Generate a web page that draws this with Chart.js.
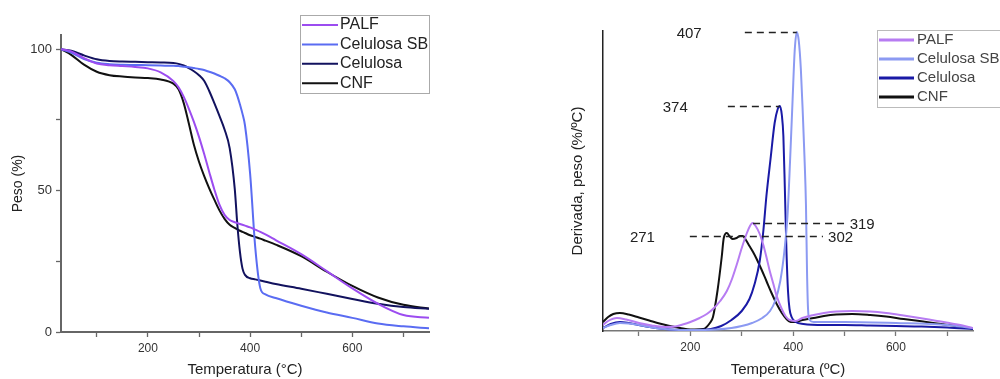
<!DOCTYPE html>
<html>
<head>
<meta charset="utf-8">
<script src="https://cdn.jsdelivr.net/npm/chart.js@4"></script>
<style>
  html, body { margin: 0; padding: 0; background: #fff; }
  #wrap { position: relative; width: 1000px; height: 379px; overflow: hidden; }
  canvas { position: absolute; top: 0; }
  #tga { left: 0; }
  #dtg { left: 500px; }
</style>
</head>
<body>
<div id="wrap">
  <canvas id="tga" width="500" height="379"></canvas>
  <canvas id="dtg" width="500" height="379"></canvas>
</div>
<script>
const seriesNames = ["PALF", "Celulosa SB", "Celulosa", "CNF"];

const xMajor = [200, 400, 600];
const xMinor = [100, 300, 500, 700];
const tgaYMajor = [0, 50, 100];
const tgaYMinor = [25, 75];

// TGA, peso (%)
const tgaTemp = [30, 50, 75, 100, 125, 150, 175, 200, 225, 250, 260, 270, 280, 290, 300, 310, 320, 330, 340, 350, 360, 370, 375, 380, 385, 390, 400, 410, 420, 430, 450, 500, 550, 600, 650, 700, 750];
const tgaPalf = [100, 99.2, 96.8, 94.9, 94.3, 94, 93.7, 93.2, 91.8, 88.7, 86.5, 83.2, 79, 74.3, 69, 63, 56.6, 50.4, 45, 41.4, 39.6, 38.8, 38.5, 38.2, 37.9, 37.6, 37, 36.2, 35.4, 34.5, 32.5, 27.5, 21.5, 15.4, 10, 6, 5];
const tgaCelSb = [100, 98.8, 96.5, 95.2, 94.7, 94.5, 94.4, 94.3, 94.2, 94.1, 94, 93.8, 93.6, 93.3, 93, 92.6, 92, 91.4, 90.6, 89.7, 88.3, 85.8, 83.5, 80.5, 77.2, 73, 56, 30, 15.5, 13.3, 12, 9.3, 6.9, 5, 3, 2, 1.3];
const tgaCel = [100, 99.4, 97.8, 96.4, 95.8, 95.6, 95.5, 95.4, 95.3, 95.1, 94.8, 94.2, 93.3, 92.2, 90.8, 88.8, 85.2, 80.9, 76.4, 71.6, 65, 50.5, 38, 28.5, 22.5, 20.2, 19, 18.6, 18.2, 17.8, 17, 15.3, 13.5, 11.7, 10, 8.8, 8.2];
const tgaCnf = [100, 98, 94.5, 92, 90.8, 90.3, 90, 89.8, 89.3, 87.8, 85.8, 81, 73.8, 66.2, 60.2, 55.2, 50.8, 46.8, 43, 40, 37.9, 36.8, 36.3, 35.8, 35.4, 35, 34.2, 33.6, 33, 32.3, 30.9, 26.8, 21.3, 16.3, 12.2, 9.6, 8.3];

// DTG, derivada (unidades arbitrarias)
const dtgPalfT = [30, 40, 57, 75, 100, 125, 150, 170, 185, 200, 218, 232, 244, 258, 271, 281, 290, 300, 310, 316, 321, 327, 335, 342, 348, 354, 361, 368, 377, 385, 393, 405, 418, 440, 460, 484, 515, 550, 581, 615, 646, 680, 704, 730, 750];
const dtgPalf = [6, 10, 13, 11.5, 8, 5.5, 4, 4.5, 6.5, 9, 13, 17, 22, 30, 40, 52, 66, 83, 98, 105, 108, 105, 97, 86, 74, 61, 48, 35, 23, 15, 11, 10, 13, 16, 18, 19.5, 20, 19.5, 18, 15.5, 13, 10, 8, 5.5, 3];

const dtgCelSbT = [30, 45, 63, 80, 100, 121, 140, 160, 200, 250, 280, 300, 320, 340, 355, 365, 375, 383, 389, 394, 399, 403, 407, 411, 415, 419, 422, 425, 427, 429, 432, 440, 500, 600, 700, 750];
const dtgCelSb = [3, 6, 8, 7.5, 6, 4, 2.5, 1.5, 1, 1.5, 3, 5, 8, 13, 20, 30, 50, 80, 115, 170, 232, 280, 299, 290, 262, 215, 175, 125, 60, 22, 11, 9, 9, 8, 6, 3];

const dtgCelT = [30, 45, 63, 80, 100, 121, 140, 160, 200, 240, 260, 280, 300, 315, 325, 335, 342, 348, 356, 364, 370, 374, 378, 381, 384, 387, 390, 393, 397, 405, 420, 460, 500, 550, 600, 650, 700, 750];
const dtgCel = [3, 7, 9, 8, 6, 4, 2.5, 1.5, 1, 2, 5, 11, 20, 32, 47, 70, 100, 135, 172, 208, 222, 225, 216, 195, 140, 80, 40, 22, 14, 9, 7, 6, 6, 5.5, 5, 4.5, 3.5, 2];

const dtgCnfT = [30, 40, 50, 63, 80, 100, 120, 140, 160, 180, 200, 225, 238, 244, 253, 261, 265, 271, 276, 282, 290, 297, 302, 308, 315, 322, 329, 338, 348, 358, 368, 378, 387, 395, 405, 418, 440, 460, 484, 515, 550, 581, 615, 646, 680, 704, 730, 750];
const dtgCnf = [9, 14, 17, 18, 16.5, 13.5, 10.5, 7.5, 5, 3, 1.5, 2, 8, 14, 41, 74, 93, 98, 95, 92, 93, 95, 95, 91, 85, 79, 72, 62, 50, 38, 27, 18, 12, 9, 9, 11, 13, 15, 16.5, 17, 16, 14.5, 12, 10, 7.5, 6, 4, 2.5];

// dashed peak markers on the DTG panel (temperatures / y values)
const peakMarks = [
  { y: 299, from: 306, to: 407, left: { text: "407", at: 222 } },
  { y: 225, from: 273, to: 374, left: { text: "374", at: 195 } },
  { y: 95, from: 199, to: 458, left: { text: "271", at: 131 }, right: { text: "302", at: 468 } },
  { y: 108, from: 322, to: 501, right: { text: "319", at: 510 } },
];

const fontFamily = "'Liberation Sans', Arial, sans-serif";
Chart.defaults.font.family = fontFamily;

const toPoints = (xs, ys) => xs.map((x, i) => ({ x: x, y: ys[i] }));

const line = (label, data, color) => ({
  label: label,
  data: data,
  borderColor: color,
  borderWidth: 2,
  pointRadius: 0,
  fill: false,
  cubicInterpolationMode: "monotone",
});

// legend drawn as a framed box inside the plot
const boxLegend = {
  id: "boxLegend",
  afterDraw(chart, args, opts) {
    const ctx = chart.ctx;
    ctx.save();
    ctx.strokeStyle = opts.borderColor;
    ctx.lineWidth = 1;
    ctx.strokeRect(opts.x + 0.5, opts.y + 0.5, opts.width, opts.height);
    ctx.font = opts.fontSize + "px " + fontFamily;
    ctx.textBaseline = "middle";
    chart.data.datasets.forEach((ds, i) => {
      const cy = opts.y + opts.firstRow + i * opts.rowGap;
      ctx.strokeStyle = ds.borderColor;
      ctx.lineWidth = opts.sampleWidth;
      ctx.beginPath();
      ctx.moveTo(opts.x + 2, cy);
      ctx.lineTo(opts.x + 2 + opts.sampleLength, cy);
      ctx.stroke();
      ctx.fillStyle = opts.textColor;
      ctx.fillText(ds.label, opts.x + opts.textOffset, cy);
    });
    ctx.restore();
  },
};

const peakLines = {
  id: "peakLines",
  afterDatasetsDraw(chart) {
    const ctx = chart.ctx;
    const x = chart.scales.x;
    const y = chart.scales.y;
    ctx.save();
    ctx.strokeStyle = "#222";
    ctx.fillStyle = "#222";
    ctx.lineWidth = 1.3;
    ctx.font = "15px " + fontFamily;
    ctx.textBaseline = "middle";
    peakMarks.forEach((m) => {
      const py = Math.round(y.getPixelForValue(m.y)) + 0.5;
      ctx.setLineDash([7, 5]);
      ctx.beginPath();
      ctx.moveTo(x.getPixelForValue(m.from), py);
      ctx.lineTo(x.getPixelForValue(m.to), py);
      ctx.stroke();
      ctx.setLineDash([]);
      if (m.left) {
        ctx.textAlign = "right";
        ctx.fillText(m.left.text, x.getPixelForValue(m.left.at), py + 1);
      }
      if (m.right) {
        ctx.textAlign = "left";
        ctx.fillText(m.right.text, x.getPixelForValue(m.right.at), py + 1);
      }
    });
    ctx.restore();
  },
};

const xTicks = xMajor.concat(xMinor).sort((a, b) => a - b);

function xAxis(height, borderColor, borderWidth, titleText) {
  return {
    type: "linear",
    min: 30,
    max: 750,
    afterBuildTicks: (scale) => {
      scale.ticks = xTicks.map((v) => ({ value: v }));
    },
    afterFit: (scale) => {
      scale.height = height;
    },
    border: { display: true, color: borderColor, width: borderWidth },
    grid: {
      drawOnChartArea: false,
      drawTicks: true,
      tickLength: 5,
      tickColor: borderColor,
      tickWidth: 1.3,
    },
    ticks: {
      padding: 4,
      color: "#333",
      font: { size: 12 },
      maxRotation: 0,
      autoSkip: false,
      callback: (value) => (xMajor.includes(value) ? String(value) : ""),
    },
    title: {
      display: true,
      text: titleText,
      color: "#222",
      font: { size: 15 },
      padding: { top: 0, bottom: 0 },
    },
  };
}

new Chart(document.getElementById("tga"), {
  type: "line",
  data: {
    datasets: [
      line(seriesNames[0], toPoints(tgaTemp, tgaPalf), "#9c4cf0"),
      line(seriesNames[1], toPoints(tgaTemp, tgaCelSb), "#5a6cf2"),
      line(seriesNames[2], toPoints(tgaTemp, tgaCel), "#12125e"),
      line(seriesNames[3], toPoints(tgaTemp, tgaCnf), "#111111"),
    ],
  },
  options: {
    responsive: false,
    animation: false,
    devicePixelRatio: 1,
    layout: { padding: { left: 0, top: 35, right: 71, bottom: 0 } },
    plugins: {
      legend: { display: false },
      tooltip: { enabled: false },
      boxLegend: {
        x: 300, y: 15, width: 129, height: 78,
        firstRow: 10, rowGap: 19.4,
        sampleLength: 36, sampleWidth: 2, textOffset: 40,
        fontSize: 16, textColor: "#222", borderColor: "#aaa",
      },
    },
    scales: {
      x: xAxis(47, "#666", 2, "Temperatura (°C)"),
      y: {
        min: 0,
        max: 105,
        afterBuildTicks: (scale) => {
          scale.ticks = tgaYMajor.concat(tgaYMinor).sort((a, b) => a - b).map((v) => ({ value: v }));
        },
        afterFit: (scale) => {
          scale.width = 61;
        },
        border: { display: true, color: "#666", width: 2 },
        grid: {
          drawOnChartArea: false,
          drawTicks: true,
          tickLength: 5,
          tickColor: "#666",
          tickWidth: 1.3,
        },
        ticks: {
          padding: 4,
          color: "#333",
          font: { size: 13 },
          autoSkip: false,
          callback: (value) => (tgaYMajor.includes(value) ? String(value) : ""),
        },
        title: {
          display: true,
          text: "Peso (%)",
          color: "#222",
          font: { size: 14 },
          padding: { top: 10, bottom: 0 },
        },
      },
    },
  },
  plugins: [boxLegend],
});

new Chart(document.getElementById("dtg"), {
  type: "line",
  data: {
    datasets: [
      line(seriesNames[0], toPoints(dtgPalfT, dtgPalf), "#b77cf2"),
      line(seriesNames[1], toPoints(dtgCelSbT, dtgCelSb), "#8c9af2"),
      line(seriesNames[2], toPoints(dtgCelT, dtgCel), "#1a1aa6"),
      line(seriesNames[3], toPoints(dtgCnfT, dtgCnf), "#111111"),
    ],
  },
  options: {
    responsive: false,
    animation: false,
    devicePixelRatio: 1,
    layout: { padding: { left: 0, top: 31, right: 27, bottom: 0 } },
    plugins: {
      legend: { display: false },
      tooltip: { enabled: false },
      boxLegend: {
        x: 377, y: 30, width: 130, height: 77,
        firstRow: 10, rowGap: 19,
        sampleLength: 35, sampleWidth: 3, textOffset: 40,
        fontSize: 15, textColor: "#444", borderColor: "#bbb",
      },
    },
    scales: {
      x: xAxis(48, "#777", 1.5, "Temperatura (ºC)"),
      y: {
        min: 0,
        max: 300,
        afterFit: (scale) => {
          scale.width = 103;
        },
        border: { display: true, color: "#222", width: 1.5 },
        grid: { display: false, drawTicks: false },
        ticks: { display: false },
        title: {
          display: true,
          text: "Derivada, peso (%/ºC)",
          color: "#222",
          font: { size: 15 },
          padding: { top: 69, bottom: 0 },
        },
      },
    },
  },
  plugins: [peakLines, boxLegend],
});
</script>
</body>
</html>
